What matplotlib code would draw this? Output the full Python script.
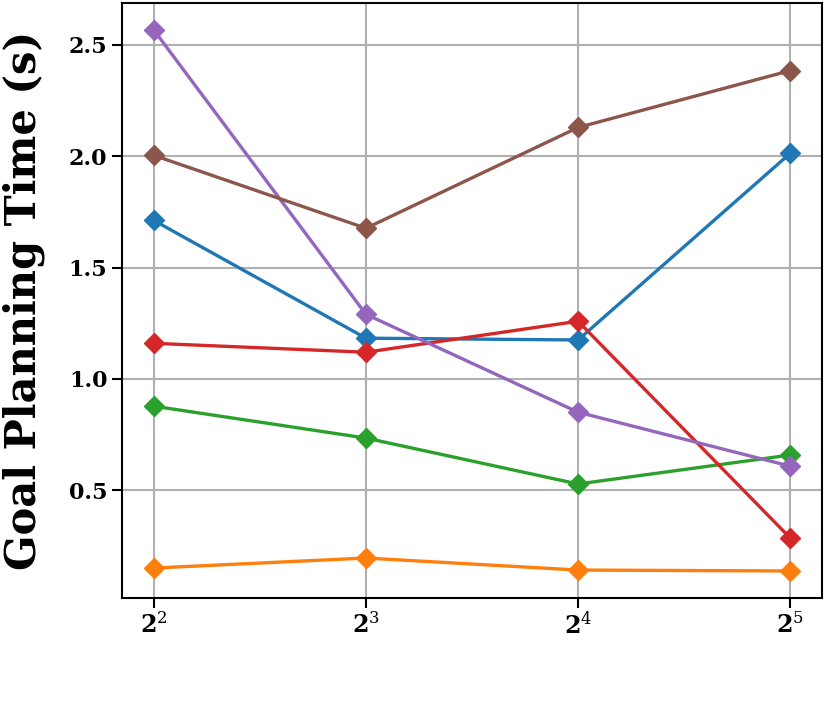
import matplotlib
matplotlib.use('Agg')
import matplotlib.pyplot as plt
from matplotlib.ticker import NullLocator

# data
sizes = [4, 8, 16, 32]
xtick_labels = [r'$\mathbf{2}^{2}$', r'$\mathbf{2}^{3}$', r'$\mathbf{2}^{4}$', r'$\mathbf{2}^{5}$']
ytick_vals = [0.5, 1.0, 1.5, 2.0, 2.5]
ytick_labels = ['0.5', '1.0', '1.5', '2.0', '2.5']
blue = [1.711, 1.183, 1.175, 2.012]
orange = [0.152, 0.197, 0.143, 0.139]
green = [0.878, 0.735, 0.529, 0.659]
red = [1.160, 1.120, 1.259, 0.287]
purple = [2.565, 1.290, 0.851, 0.609]
brown = [2.003, 1.676, 2.128, 2.383]

fig = plt.figure(figsize=(8.3, 7.06), dpi=100)
ax = fig.add_axes([122 / 830, 108 / 706, 700 / 830, 595 / 706])

for series, color in zip([blue, orange, green, red, purple, brown],
                         ['C0', 'C1', 'C2', 'C3', 'C4', 'C5']):
    ax.plot(sizes, series, color=color, marker='D', markersize=10.5, linewidth=2.4)

ax.set_xscale('log', base=2)
ax.set_xticks(sizes)
ax.set_xticklabels(xtick_labels, fontsize=17, math_fontfamily='dejavuserif')
ax.xaxis.set_minor_locator(NullLocator())

ax.set_yticks(ytick_vals)
ax.set_yticklabels(ytick_labels, fontsize=16, fontweight='bold', family='DejaVu Serif')

ax.set_ylabel('Goal Planning Time (s)', fontsize=30, family='DejaVu Serif',
              fontweight='bold', labelpad=17)

ax.tick_params(width=1.5, length=7)
for sp in ax.spines.values():
    sp.set_linewidth(1.5)
ax.grid(True, color='#b0b0b0', linewidth=1.5)
ax.set_axisbelow(True)

fig.savefig('out.png', dpi=100)
